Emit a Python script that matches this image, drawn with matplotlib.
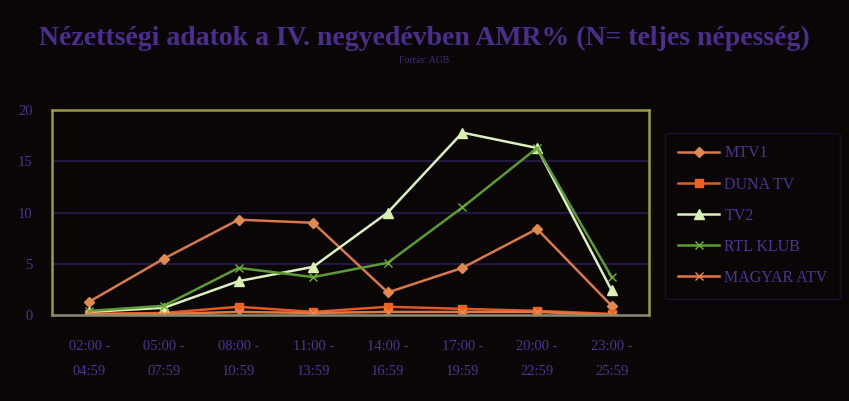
import matplotlib
matplotlib.use("Agg")
import matplotlib.pyplot as plt
import numpy as np

# Time slots (x categories)
time_slots = ["02:00 -\n04:59", "05:00 -\n07:59", "08:00 -\n10:59", "11:00 -\n13:59",
              "14:00 -\n16:59", "17:00 -\n19:59", "20:00 -\n22:59", "23:00 -\n25:59"]

# AMR% per channel
mtv1 = [1.3, 5.5, 9.3, 9.0, 2.2, 4.6, 8.4, 0.9]
duna_tv = [0.1, 0.2, 0.8, 0.3, 0.8, 0.6, 0.4, 0.1]
tv2 = [0.3, 0.7, 3.3, 4.7, 10.0, 17.8, 16.3, 2.4]
rtl_klub = [0.4, 0.9, 4.6, 3.7, 5.1, 10.5, 16.3, 3.7]
magyar_atv = [0.1, 0.1, 0.3, 0.2, 0.3, 0.3, 0.3, 0.0]

channels = ["MTV1", "DUNA TV", "TV2", "RTL KLUB", "MAGYAR ATV"]
yticks = [0, 5, 10, 15, 20]

bg = "#0a0606"
text_col = "#4b3590"

plt.rcParams["font.family"] = ["Liberation Serif", "DejaVu Serif"]

fig = plt.figure(figsize=(8.49, 4.01), dpi=100, facecolor=bg)
ax = fig.add_axes([0.0612, 0.2145, 0.7032, 0.511], facecolor=bg)

x = np.arange(len(time_slots))
styles = [
    (mtv1, "#d8784c", "D", 5, "#e08a50"),
    (duna_tv, "#e05a28", "s", 6, "#f06020"),
    (tv2, "#dcefc0", "^", 7, "#d8f0b0"),
    (rtl_klub, "#5e9a32", "x", 6, "#6cb038"),
    (magyar_atv, "#e07840", "x", 6, "#f08848"),
]
for (vals, col, mk, ms, mcol), name in zip(styles, channels):
    ax.plot(x, vals, color=col, marker=mk, markersize=ms, markerfacecolor=mcol,
            markeredgecolor=mcol, linewidth=1.8, label=name)

ax.set_xlim(-0.5, len(time_slots) - 0.5)
ax.set_ylim(0, 20)
ax.set_yticks(yticks)
ax.set_yticklabels([str(v) for v in yticks])
ax.set_xticks(x)
ax.set_xticklabels(time_slots, linespacing=2.2)
ax.tick_params(axis="both", colors=text_col, labelsize=10.5, length=0)
ax.tick_params(axis="x", pad=18)
ax.tick_params(axis="y", pad=14)

ax.yaxis.grid(True, color="#2a1c4c", linewidth=1.2)
ax.set_axisbelow(True)
for side in ["left", "top", "right"]:
    ax.spines[side].set_color("#9a9a3c")
    ax.spines[side].set_linewidth(1.8)
ax.spines["bottom"].set_color("#8a8a70")
ax.spines["bottom"].set_linewidth(1.8)

leg = ax.legend(loc="upper left", bbox_to_anchor=(1.027, 0.89), frameon=True,
                fontsize=11.5, labelspacing=0.95, handlelength=2.6, handletextpad=0.3,
                borderpad=0.8, borderaxespad=0)
leg.get_frame().set_facecolor(bg)
leg.get_frame().set_edgecolor("#1c1438")
for t in leg.get_texts():
    t.set_color(text_col)

fig.text(0.5, 0.905, "Nézettségi adatok a IV. negyedévben AMR% (N= teljes népesség)",
         ha="center", va="center", fontsize=20, fontweight="bold", color="#4a2d8c")
fig.text(0.5, 0.848, "Forrás: AGB", ha="center", va="center", fontsize=7, color="#3e2c78")

fig.savefig("out.png", dpi=100, facecolor=bg)
